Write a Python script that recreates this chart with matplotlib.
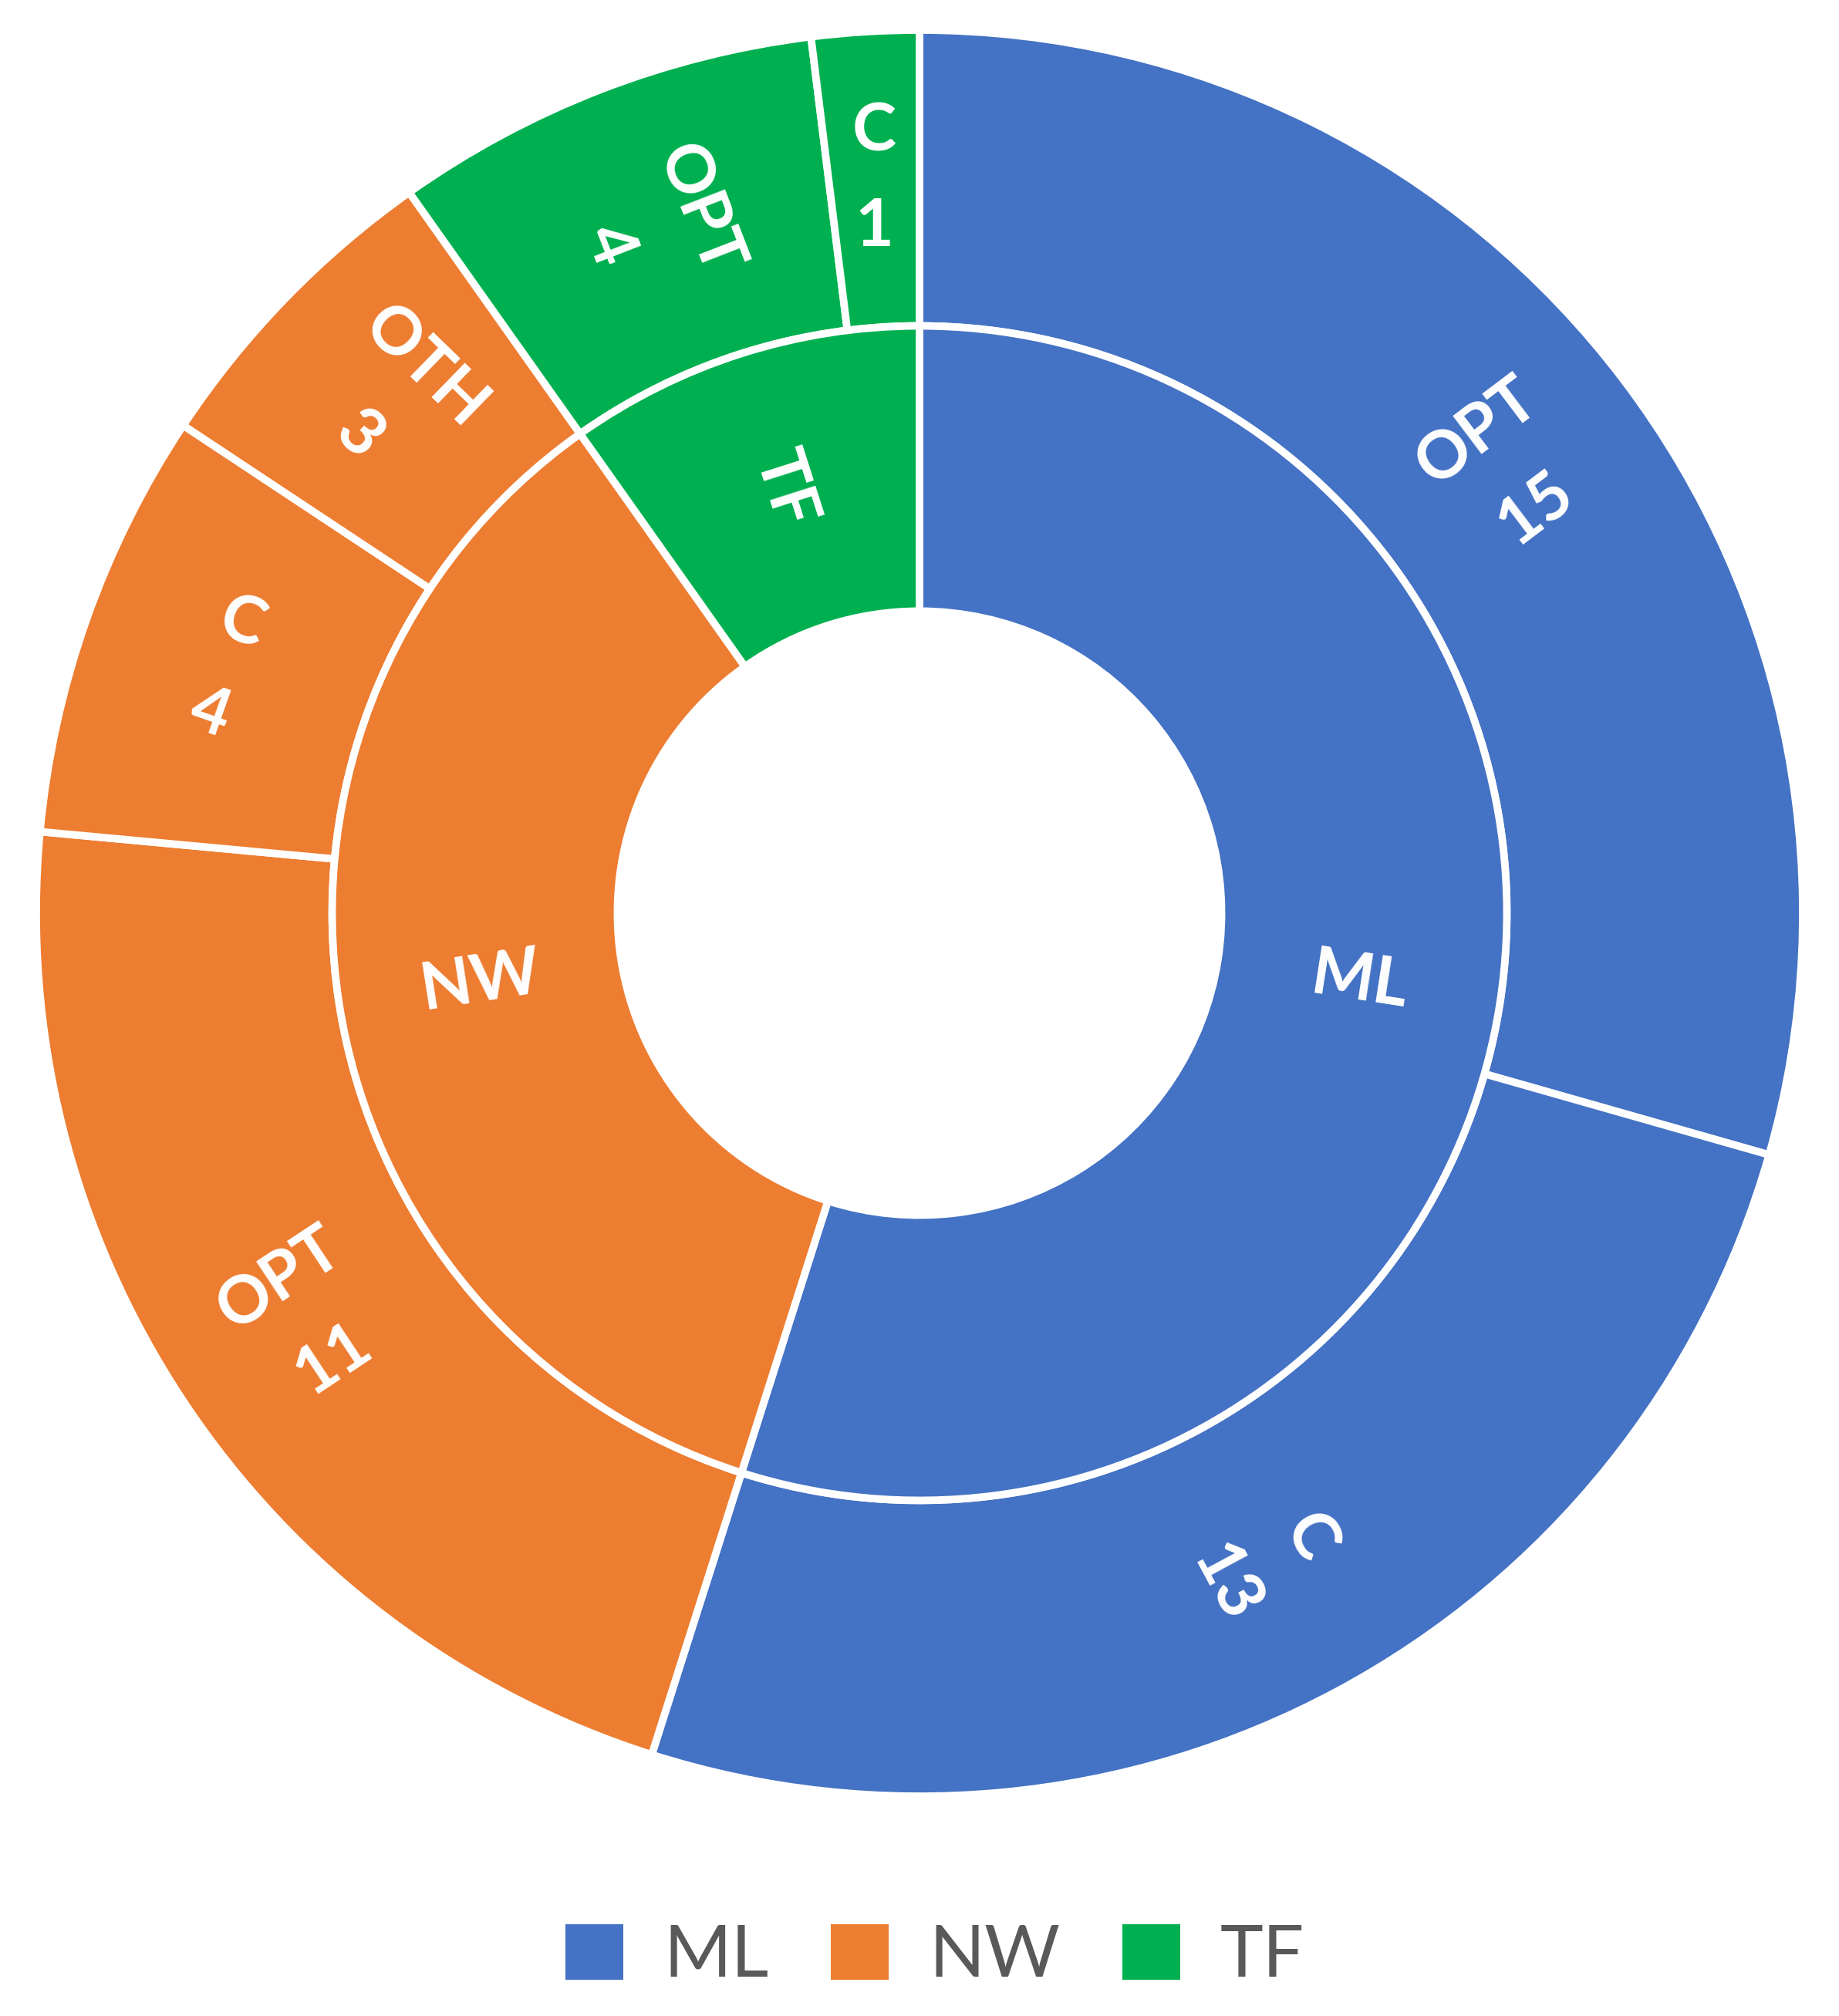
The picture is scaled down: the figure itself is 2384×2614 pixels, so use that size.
import matplotlib
matplotlib.use("Agg")
import matplotlib.pyplot as plt
from matplotlib.patches import Patch
import numpy as np

# inner ring: groups
groups = ["ML", "NW", "TF"]
group_colors = ["#4472C4", "#ED7D31", "#00B050"]

# outer ring: sub-categories per group
sub_labels = ["OPT", "C", "OPT", "C", "OTH", "OPT", "C"]
sub_values = [15, 13, 11, 4, 3, 4, 1]
sub_group = [0, 0, 1, 1, 1, 2, 2]

group_values = [sum(v for v, g in zip(sub_values, sub_group) if g == i) for i in range(len(groups))]
sub_colors = [group_colors[g] for g in sub_group]

W, H, DPI = 2384, 2614, 100
fig = plt.figure(figsize=(W / DPI, H / DPI), dpi=DPI)

# chart centre / radius in pixels
cx, cy, R = 1192, 1184, 1145
ax = fig.add_axes([(cx - R) / W, (H - cy - R) / H, 2 * R / W, 2 * R / H])

r_hole = 0.342
r_mid = 0.665
edge = dict(edgecolor="white", linewidth=7)

ax.pie(sub_values, radius=1.0, colors=sub_colors, startangle=90, counterclock=False,
       wedgeprops=dict(width=1.0 - r_mid, **edge))
ax.pie(group_values, radius=r_mid, colors=group_colors, startangle=90, counterclock=False,
       wedgeprops=dict(width=r_mid - r_hole, **edge))
ax.set_xlim(-1, 1)
ax.set_ylim(-1, 1)
ax.set_aspect("equal")
ax.axis("off")


def radial_rot(theta):
    rot = (theta + 180) % 360 - 180
    if rot > 90:
        rot -= 180
    elif rot < -90:
        rot += 180
    return rot


def put_labels(values, labels, radius):
    total = sum(values)
    cum = np.cumsum([0] + list(values))
    for i, lab in enumerate(labels):
        mid = (cum[i] + cum[i + 1]) / 2 / total * 360
        theta = 90 - mid
        x = radius * np.cos(np.radians(theta))
        y = radius * np.sin(np.radians(theta))
        # the thinnest slice keeps its label level
        rot = radial_rot(theta) if values[i] > 1 else 0
        ax.text(x, y, lab, ha="center", va="center", rotation=rot, rotation_mode="anchor",
                multialignment="center", linespacing=1.7, color="white",
                fontsize=62, fontweight="bold", family=["Lato", "DejaVu Sans"])


outer_text = [f"{l}\n{v}" for l, v in zip(sub_labels, sub_values)]
put_labels(sub_values, outer_text, (1.0 + r_mid) / 2)
put_labels(group_values, groups, (r_mid + r_hole) / 2)

handles = [Patch(facecolor=c, edgecolor="none") for c in group_colors]
fig.legend(handles, groups, loc="center", bbox_to_anchor=(1212 / W, (H - 2537) / H),
           ncol=3, frameon=False, handlelength=0.8, handleheight=0.8,
           handletextpad=0.55, columnspacing=0.85,
           prop=dict(family=["Lato", "DejaVu Sans"], size=68), labelcolor="#595959")

fig.savefig("out.png", dpi=DPI, facecolor="white")
